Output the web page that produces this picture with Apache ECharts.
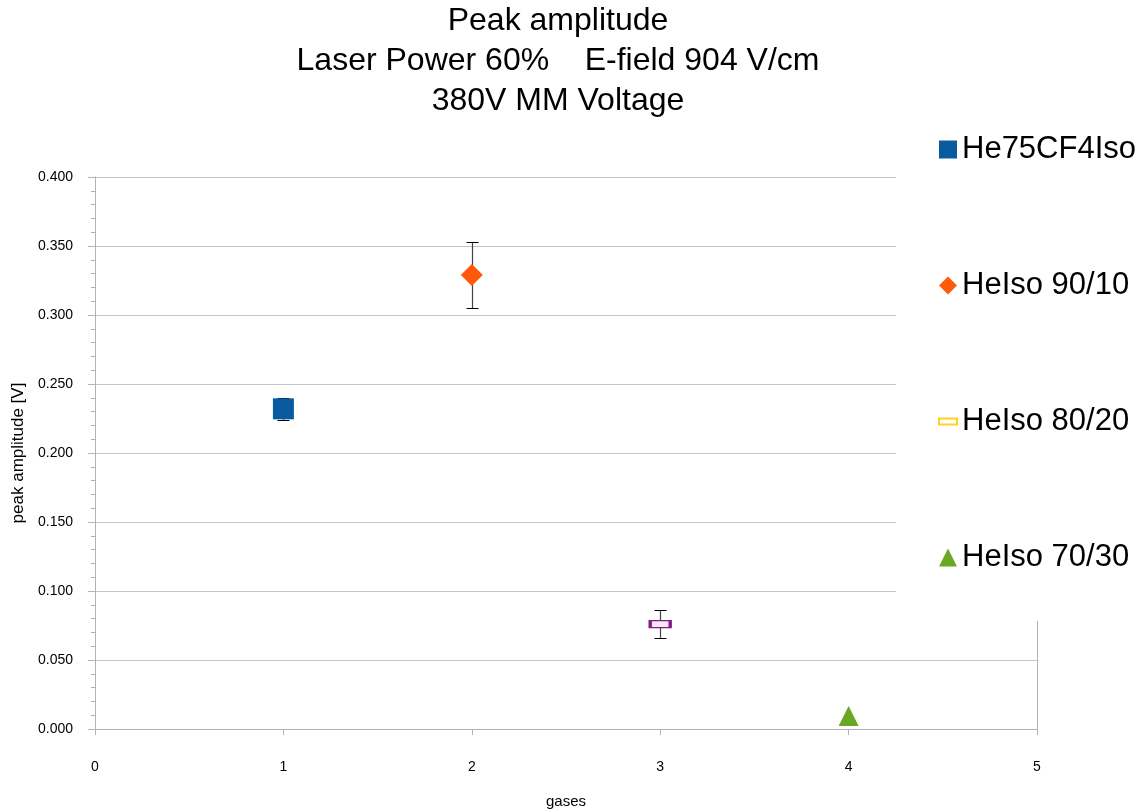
<!DOCTYPE html>
<html>
<head>
<meta charset="utf-8">
<script src="https://cdn.jsdelivr.net/npm/echarts@6/dist/echarts.min.js"></script>
<style>html,body{margin:0;padding:0;background:#fff;}#c{width:1148px;height:812px;}</style>
</head>
<body>
<div id="c"></div>
<script>
var seriesNames = ['He75CF4Iso', 'HeIso 90/10', 'HeIso 80/20', 'HeIso 70/30'];
var gasX = [1, 2, 3, 4];
var peakValues = [0.232, 0.329, 0.076, 0.0095];
var errLow = [0.224, 0.305, 0.066, 0.0095];
var errHigh = [0.240, 0.353, 0.086, 0.0095];
var xTicks = [0, 1, 2, 3, 4, 5];
var yTicks = [0, 0.05, 0.1, 0.15, 0.2, 0.25, 0.3, 0.35, 0.4];

var FONT = '"Liberation Sans", Arial, sans-serif';
var NARROW = '"Liberation Sans Narrow", "Liberation Sans", Arial, sans-serif';
var GRIDC = '#c4c4c4';
var AXC = '#b3b3b3';

var markerStyles = [
  {symbol: 'rect', size: 21, itemStyle: {color: '#0a5aa0', opacity: 1}},
  {symbol: 'diamond', size: 22, itemStyle: {color: '#ff5a0a', opacity: 1}},
  {symbol: 'rect', size: [20, 7], itemStyle: {color: '#f3eaf3', borderColor: '#84198a', borderWidth: 2, opacity: 1}},
  {symbol: 'triangle', size: 20, itemStyle: {color: '#6aa823', opacity: 1}}
];

var series = [];
series.push({
  type: 'custom',
  name: 'err',
  z: 1,
  silent: true,
  data: gasX.map(function (x, i) { return [x, errLow[i], errHigh[i]]; }),
  renderItem: function (params, api) {
    var x = api.value(0);
    if (api.value(1) === api.value(2)) { return null; }
    var lo = api.coord([x, api.value(1)]);
    var hi = api.coord([x, api.value(2)]);
    var cx = Math.round(lo[0]) + 0.5;
    var hw = 6;
    var st = {stroke: '#000', lineWidth: 1};
    return {
      type: 'group',
      children: [
        {type: 'line', shape: {x1: cx, y1: hi[1], x2: cx, y2: lo[1]}, style: {stroke: '#444', lineWidth: 1.2}},
        {type: 'line', shape: {x1: cx - hw, y1: Math.round(hi[1]) + 0.5, x2: cx + hw, y2: Math.round(hi[1]) + 0.5}, style: st},
        {type: 'line', shape: {x1: cx - hw, y1: Math.round(lo[1]) + 0.5, x2: cx + hw, y2: Math.round(lo[1]) + 0.5}, style: st}
      ]
    };
  }
});
seriesNames.forEach(function (n, i) {
  var m = markerStyles[i];
  series.push({
    type: 'scatter',
    name: n,
    z: 3,
    symbol: m.symbol,
    symbolSize: m.size,
    itemStyle: m.itemStyle,
    emphasis: {disabled: true},
    data: [[gasX[i], peakValues[i]]]
  });
});

var chart = echarts.init(document.getElementById('c'));
chart.setOption({
  animation: false,
  backgroundColor: '#fff',
  title: {
    text: 'Peak amplitude\nLaser Power 60%    E-field 904 V/cm\n380V MM Voltage',
    left: 558,
    top: 1,
    textAlign: 'center',
    padding: 0,
    textStyle: {fontFamily: FONT, fontSize: 32, fontWeight: 'normal', color: '#000', lineHeight: 40}
  },
  legend: {
    orient: 'vertical',
    left: 896,
    top: 101,
    padding: [33, 10, 48, 42],
    backgroundColor: '#fff',
    z: 10,
    itemWidth: 18,
    itemHeight: 18,
    itemGap: 105,
    itemTextGap: 7,
    textStyle: {fontFamily: FONT, fontSize: 31, color: '#000', lineHeight: 30},
    data: [
      {name: seriesNames[0], icon: 'rect'},
      {name: seriesNames[1], icon: 'diamond'},
      {name: seriesNames[2], icon: 'path://M0,0L18,0L18,6L0,6Z', itemStyle: {color: '#fff', borderColor: '#ffd320', borderWidth: 2}},
      {name: seriesNames[3], icon: 'triangle'}
    ]
  },
  grid: {left: 95, right: 111, top: 177, bottom: 83, outerBoundsMode: 'none', containLabel: false},
  xAxis: {
    type: 'value',
    min: xTicks[0],
    max: xTicks[xTicks.length - 1],
    interval: 1,
    name: 'gases',
    nameLocation: 'middle',
    nameGap: 65,
    nameTextStyle: {fontFamily: FONT, fontSize: 15, color: '#000'},
    axisLine: {show: true, lineStyle: {color: AXC}},
    axisTick: {show: true, length: 6, lineStyle: {color: AXC}},
    axisLabel: {fontFamily: NARROW, fontSize: 14, color: '#000', margin: 31},
    splitLine: {show: false}
  },
  yAxis: [{
    type: 'value',
    min: yTicks[0],
    max: yTicks[yTicks.length - 1],
    interval: 0.05,
    name: 'peak amplitude [V]',
    nameLocation: 'middle',
    nameGap: 66,
    nameTextStyle: {fontFamily: FONT, fontSize: 17, color: '#000'},
    axisLine: {show: true, lineStyle: {color: AXC}},
    axisTick: {show: true, length: 7, lineStyle: {color: AXC}},
    minorTick: {show: true, splitNumber: 5, length: 4, lineStyle: {color: AXC}},
    axisLabel: {fontFamily: FONT, fontSize: 14, color: '#000', margin: 22,
      formatter: function (v) { return v.toFixed(3); }},
    splitLine: {show: true, lineStyle: {color: GRIDC, width: 1}}
  }, {
    type: 'value',
    position: 'right',
    min: 0, max: 0.4,
    axisLine: {show: true, lineStyle: {color: AXC}},
    axisTick: {show: false},
    axisLabel: {show: false},
    splitLine: {show: false}
  }],
  series: series
});
</script>
</body>
</html>
